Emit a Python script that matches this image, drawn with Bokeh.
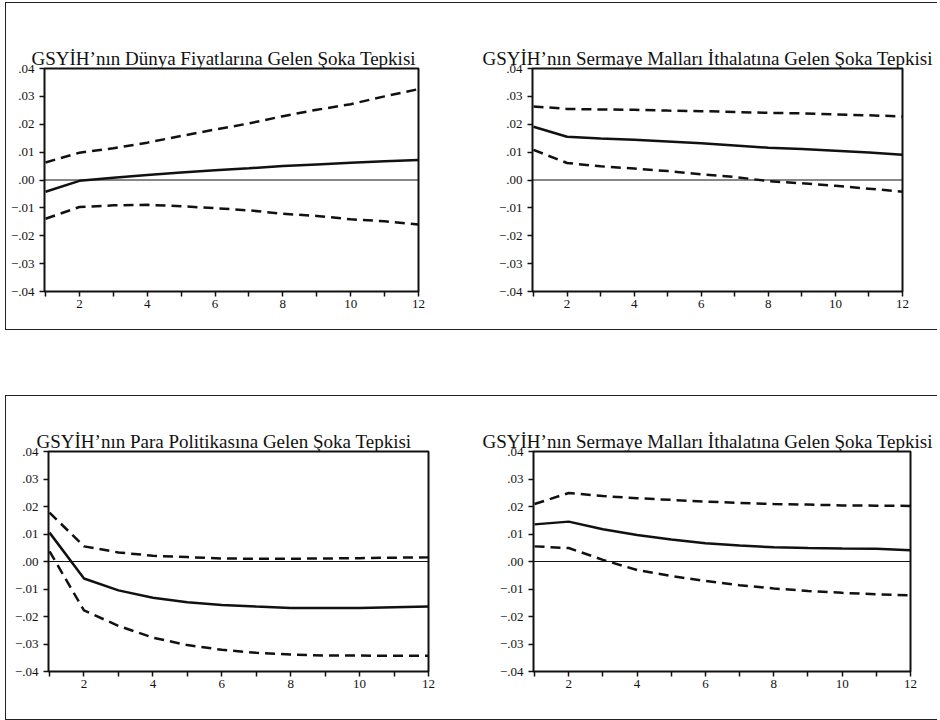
from bokeh.plotting import figure
from bokeh.layouts import row, column
from bokeh.models import Range1d, FixedTicker, Span, CustomJSTickFormatter
from bokeh.embed import file_html
from bokeh.resources import INLINE

# ---- data ----
periods = [1, 2, 3, 4, 5, 6, 7, 8, 9, 10, 11, 12]

titles = [
    "GSYİH\u2019nın Dünya Fiyatlarına Gelen Şoka Tepkisi",
    "GSYİH\u2019nın Sermaye Malları İthalatına Gelen Şoka Tepkisi",
    "GSYİH\u2019nın Para Politikasına Gelen Şoka Tepkisi",
    "GSYİH\u2019nın Sermaye Malları İthalatına Gelen Şoka Tepkisi",
]

# Panel 1: world prices
p1_resp = [-0.0042, -0.0003, 0.0008, 0.0018, 0.0027, 0.0035, 0.0042, 0.0050, 0.0056, 0.0062, 0.0067, 0.0072]
p1_upper = [0.0063, 0.0098, 0.0114, 0.0134, 0.0158, 0.0181, 0.0203, 0.0229, 0.0252, 0.0272, 0.0300, 0.0326]
p1_lower = [-0.0139, -0.0097, -0.0091, -0.0089, -0.0094, -0.0101, -0.0109, -0.0121, -0.0129, -0.0141, -0.0148, -0.0160]

# Panel 2: capital goods imports (top)
p2_resp = [0.0191, 0.0155, 0.0149, 0.0144, 0.0138, 0.0132, 0.0124, 0.0116, 0.0111, 0.0105, 0.0099, 0.0091]
p2_upper = [0.0264, 0.0255, 0.0253, 0.0252, 0.0249, 0.0247, 0.0244, 0.0241, 0.0239, 0.0235, 0.0232, 0.0228]
p2_lower = [0.0108, 0.0061, 0.0049, 0.0041, 0.0032, 0.0020, 0.0011, -0.0004, -0.0012, -0.0021, -0.0031, -0.0042]

# Panel 3: monetary policy
p3_resp = [0.0105, -0.0062, -0.0105, -0.0132, -0.0148, -0.0158, -0.0164, -0.0169, -0.0169, -0.0169, -0.0166, -0.0164]
p3_upper = [0.0178, 0.0055, 0.0033, 0.0021, 0.0016, 0.0011, 0.0010, 0.0010, 0.0011, 0.0012, 0.0014, 0.0015]
p3_lower = [0.0037, -0.0178, -0.0234, -0.0277, -0.0304, -0.0321, -0.0332, -0.0338, -0.0342, -0.0342, -0.0343, -0.0343]

# Panel 4: capital goods imports (bottom)
p4_resp = [0.0135, 0.0145, 0.0117, 0.0096, 0.0080, 0.0066, 0.0058, 0.0052, 0.0049, 0.0047, 0.0046, 0.0041]
p4_upper = [0.0209, 0.0249, 0.0238, 0.0230, 0.0224, 0.0218, 0.0213, 0.0209, 0.0207, 0.0204, 0.0203, 0.0202]
p4_lower = [0.0055, 0.0049, 0.0006, -0.0031, -0.0053, -0.0071, -0.0086, -0.0098, -0.0107, -0.0114, -0.0119, -0.0123]

x_major_ticks = [2, 4, 6, 8, 10, 12]
x_minor_ticks = [1, 3, 5, 7, 9, 11]
y_ticks = [-0.04, -0.03, -0.02, -0.01, 0.0, 0.01, 0.02, 0.03, 0.04]

FONT = "Liberation Serif"
INK = "#111111"


def make_panel(title, w, h, mbl, mbr, mbt, mbb, offset, resp, upper, lower):
    p = figure(width=w, height=h, output_backend="svg", toolbar_location=None,
               x_range=Range1d(0.97, 12.0), y_range=Range1d(-0.04, 0.04),
               min_border_left=mbl, min_border_right=mbr,
               min_border_top=mbt, min_border_bottom=mbb)
    xax = p.below[0]
    yax = p.left[0]
    xax.ticker = FixedTicker(ticks=x_major_ticks, minor_ticks=x_minor_ticks)
    yax.ticker = FixedTicker(ticks=y_ticks, minor_ticks=[])
    yax.formatter = CustomJSTickFormatter(code="""
        const v = Math.round(Math.abs(tick) * 100);
        const s = '.' + (v < 10 ? '0' + v : '' + v);
        return (tick < -1e-9 ? '\u2212' : '') + s;
    """)
    for ax in (xax, yax):
        ax.axis_line_color = None
        ax.major_tick_in = 0
        ax.major_tick_out = 5
        ax.minor_tick_in = 0
        ax.minor_tick_out = 5
        ax.major_tick_line_color = INK
        ax.minor_tick_line_color = INK
        ax.major_tick_line_width = 1.5
        ax.minor_tick_line_width = 1.5
        ax.major_label_text_font = FONT
        ax.major_label_text_font_size = "13px"
        ax.major_label_text_color = INK
    xax.major_label_standoff = 3
    yax.major_label_standoff = 5

    p.title.text = title
    p.title.text_font = FONT
    p.title.text_font_size = "19px"
    p.title.text_font_style = "normal"
    p.title.text_color = INK
    p.title.align = "left"
    p.title.vertical_align = "bottom"
    p.title.standoff = 0
    p.title.offset = offset
    p.xgrid.visible = False
    p.ygrid.visible = False
    p.outline_line_color = INK
    p.outline_line_width = 2
    p.background_fill_color = "white"
    p.border_fill_color = "white"

    p.add_layout(Span(location=0, dimension="width", line_color=INK, line_width=1))
    p.line(periods, upper, line_color=INK, line_width=2.5, line_dash="10 6")
    p.line(periods, lower, line_color=INK, line_width=2.5, line_dash="10 6")
    p.line(periods, resp, line_color=INK, line_width=2.5)
    return p


f1 = make_panel(titles[0], 464, 326, 38, 52, 65, 35, -13, p1_resp, p1_upper, p1_lower)
f2 = make_panel(titles[1], 467, 326, 62, 35, 60, 38, -50, p2_resp, p2_upper, p2_lower)
f3 = make_panel(titles[2], 464, 323, 42, 42, 55, 48, -12, p3_resp, p3_upper, p3_lower)
f4 = make_panel(titles[3], 467, 323, 63, 27, 55, 48, -51, p4_resp, p4_upper, p4_lower)

box = {"border": "1px solid #222222", "border-right": "none"}
r1 = row(f1, f2, styles=box)
r2 = row(f3, f4, styles=box)
root = column(r1, r2, spacing=65,
              styles={"margin-left": "5px", "margin-top": "2px", "margin-bottom": "-30px"})

open("out.html", "w").write(file_html(root, INLINE))
